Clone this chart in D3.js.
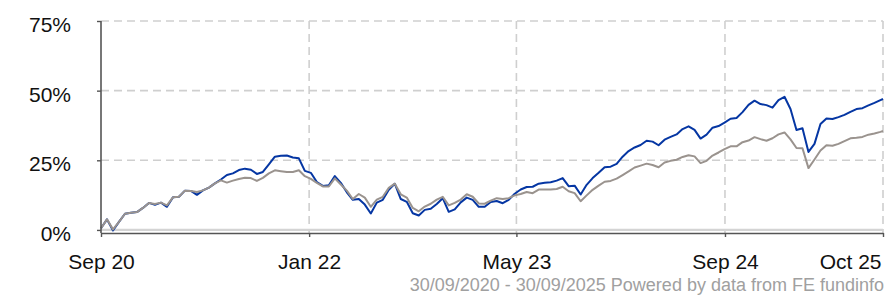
<!DOCTYPE html>
<html>
<head>
<meta charset="utf-8">
<script src="https://cdn.jsdelivr.net/npm/d3@7"></script>
<style>
  body { margin: 0; background: #fff; }
  svg text { font-family: "Liberation Sans", Arial, sans-serif; }
</style>
</head>
<body>
<div id="lineChart"></div>
<script>
// one point every 14 days from start, last point on end date
const startDate = "2020-09-30";
const endDate = "2025-09-30";
const stepDays = 14;

// cumulative % growth, fund (blue)
const fundValues = [
  0.6, 3.8, -0.2, 2.9, 5.8, 6.2, 6.4, 7.9, 9.7, 9.0,
  9.8, 8.3, 11.7, 11.9, 14.1, 14.0, 12.6, 14.2, 15.2, 16.7,
  18.1, 19.7, 20.3, 21.5, 22.0, 21.6, 20.1, 20.8, 23.5, 26.3,
  26.6, 26.7, 26.0, 25.7, 21.2, 20.5, 17.2, 15.8, 16.0, 19.3,
  16.9, 13.5, 10.8, 11.1, 9.1, 5.9, 9.8, 10.8, 14.4, 16.6,
  11.1, 10.1, 6.0, 5.2, 7.2, 7.6, 9.3, 11.4, 6.5, 7.4,
  9.9, 11.6, 10.8, 8.3, 8.3, 10.0, 10.4, 9.6, 10.8, 13.0,
  14.5, 15.4, 15.5, 16.6, 16.9, 17.1, 17.7, 18.6, 15.7, 15.9,
  12.7, 16.2, 18.6, 20.5, 22.5, 22.7, 23.7, 26.3, 28.3, 29.6,
  30.5, 32.0, 31.7, 30.4, 32.4, 33.4, 34.3, 36.2, 37.2, 35.9,
  32.8, 34.2, 36.7, 37.3, 38.5, 39.9, 40.2, 42.3, 44.9, 46.4,
  45.2, 44.8, 43.9, 46.6, 47.8, 43.4, 35.9, 36.5, 28.0, 30.9,
  38.0, 40.0, 39.8, 40.5, 41.3, 42.4, 43.4, 43.7, 44.7, 45.6, 46.6,
  47.0
];

// cumulative % growth, sector (grey)
const sectorValues = [
  0.6, 3.8, 0.2, 2.9, 5.8, 6.2, 6.4, 7.9, 9.7, 9.3,
  9.8, 8.8, 11.7, 11.9, 14.1, 14.0, 13.6, 14.2, 15.2, 16.7,
  17.8, 17.0, 17.7, 18.3, 18.7, 18.6, 17.6, 18.7, 20.3, 21.4,
  21.1, 20.8, 20.8, 21.4, 19.3, 18.3, 16.9, 15.6, 15.6, 18.5,
  16.3, 14.1, 11.1, 12.9, 11.6, 8.3, 10.9, 11.9, 15.1, 16.6,
  12.8, 11.6, 7.9, 6.7, 8.4, 9.4, 10.9, 11.9, 8.8, 9.7,
  10.9, 12.8, 11.9, 9.5, 9.4, 10.5, 11.4, 11.1, 11.4, 12.4,
  12.9, 13.6, 13.2, 14.5, 14.5, 14.5, 14.7, 15.5, 13.9, 13.2,
  10.3, 12.4, 14.4, 15.9, 17.3, 17.6, 18.4, 19.7, 21.0, 22.4,
  23.1, 23.8, 23.3, 22.5, 24.2, 24.8, 25.2, 26.2, 26.8, 26.4,
  24.0, 24.8, 26.7, 27.8, 29.0, 30.0, 30.0, 31.5, 32.1, 33.3,
  32.6, 32.0, 32.9, 34.3, 35.0, 32.5, 29.4, 29.3, 22.2, 25.3,
  28.5, 30.4, 30.2, 30.9, 31.9, 32.9, 33.1, 33.4, 34.2, 34.6, 35.2,
  35.5
];

const xTickDates = ["2020-09-30", "2022-01-29", "2023-05-28", "2024-09-26", "2025-09-30"];
const xTickLabels = ["Sep 20", "Jan 22", "May 23", "Sep 24", "Oct 25"];
const yTicks = [0, 25, 50, 75];
const footerText = "30/09/2020 - 30/09/2025 Powered by data from FE fundinfo";

class LineChart {

  constructor() {
    this.svgWidth = 885;
    this.svgHeight = 295;
    this.margin = {top: 21, right: 2, bottom: 62, left: 101};
    this.svg = d3.select("#lineChart").append("svg")
      .attr("width", this.svgWidth)
      .attr("height", this.svgHeight);
  }

  draw() {
    let parse = d3.timeParse("%Y-%m-%d");
    let start = parse(startDate);
    let dates = d3.range(fundValues.length - 1).map(i => d3.timeDay.offset(start, stepDays * i));
    dates.push(parse(endDate));

    let x0 = this.margin.left;
    let x1 = this.svgWidth - this.margin.right;
    let yBottom = this.svgHeight - this.margin.bottom;

    let xScale = d3.scaleTime()
      .domain([start, parse(endDate)])
      .range([x0, x1]);
    let yScale = d3.scaleLinear()
      .domain([-1.1, 75])
      .range([yBottom, this.margin.top]);

    let tickDates = xTickDates.map(parse);

    // grid
    let grid = this.svg.append("g");
    grid.selectAll(".hgrid").data(yTicks.filter(d => d > 0)).enter()
      .append("line")
      .attr("x1", x0).attr("x2", x1)
      .attr("y1", d => yScale(d)).attr("y2", d => yScale(d))
      .attr("stroke", "#cfcfcf").attr("stroke-width", 1.6)
      .attr("stroke-dasharray", "8,5");
    grid.selectAll(".vgrid").data(tickDates.slice(1)).enter()
      .append("line")
      .attr("x1", d => xScale(d)).attr("x2", d => xScale(d))
      .attr("y1", this.margin.top).attr("y2", yBottom)
      .attr("stroke", "#cfcfcf").attr("stroke-width", 1.6)
      .attr("stroke-dasharray", "8,5");
    // zero line
    grid.append("line")
      .attr("x1", x0).attr("x2", x1)
      .attr("y1", yScale(0)).attr("y2", yScale(0))
      .attr("stroke", "#d4d4d4").attr("stroke-width", 2.2);

    // lines
    let line = d3.line()
      .x((d, i) => xScale(dates[i]))
      .y(d => yScale(d));
    this.svg.append("path")
      .datum(fundValues)
      .attr("fill", "none")
      .attr("stroke", "#0536a3")
      .attr("stroke-width", 2)
      .attr("stroke-linejoin", "round")
      .attr("d", line);
    this.svg.append("path")
      .datum(sectorValues)
      .attr("fill", "none")
      .attr("stroke", "#9a938e")
      .attr("stroke-width", 2)
      .attr("stroke-linejoin", "round")
      .attr("d", line);

    // axes
    let yAxis = d3.axisLeft(yScale)
      .tickValues(yTicks)
      .tickSizeInner(4).tickSizeOuter(0)
      .tickPadding(26)
      .tickFormat(d => d + "%");
    let yG = this.svg.append("g")
      .attr("transform", "translate(" + x0 + ",0)")
      .call(yAxis);
    yG.select(".domain").attr("d", "M0," + this.margin.top + "V" + yBottom);

    let xAxis = d3.axisBottom(xScale)
      .tickValues(tickDates)
      .tickSizeInner(4).tickSizeOuter(0)
      .tickPadding(17)
      .tickFormat((d, i) => xTickLabels[i]);
    let xG = this.svg.append("g")
      .attr("transform", "translate(0," + yBottom + ")")
      .call(xAxis);

    [yG, xG].forEach(g => {
      g.select(".domain").attr("stroke", "#555").attr("stroke-width", 1.6);
      g.selectAll(".tick line").attr("stroke", "#555").attr("stroke-width", 1.4);
      g.selectAll(".tick text")
        .attr("fill", "#111")
        .style("font-size", "21px");
    });
    yG.selectAll(".tick text").attr("dy", "0.5em");
    xG.selectAll(".tick text")
      .filter((d, i) => i == xTickLabels.length - 1)
      .attr("text-anchor", "end")
      .attr("dx", -2);

    // source line
    this.svg.append("text")
      .attr("x", 884)
      .attr("y", 291)
      .attr("text-anchor", "end")
      .attr("fill", "#a0a0a0")
      .style("font-size", "18px")
      .text(footerText);
  }
}

let chart = new LineChart();
chart.draw();
</script>
</body>
</html>
